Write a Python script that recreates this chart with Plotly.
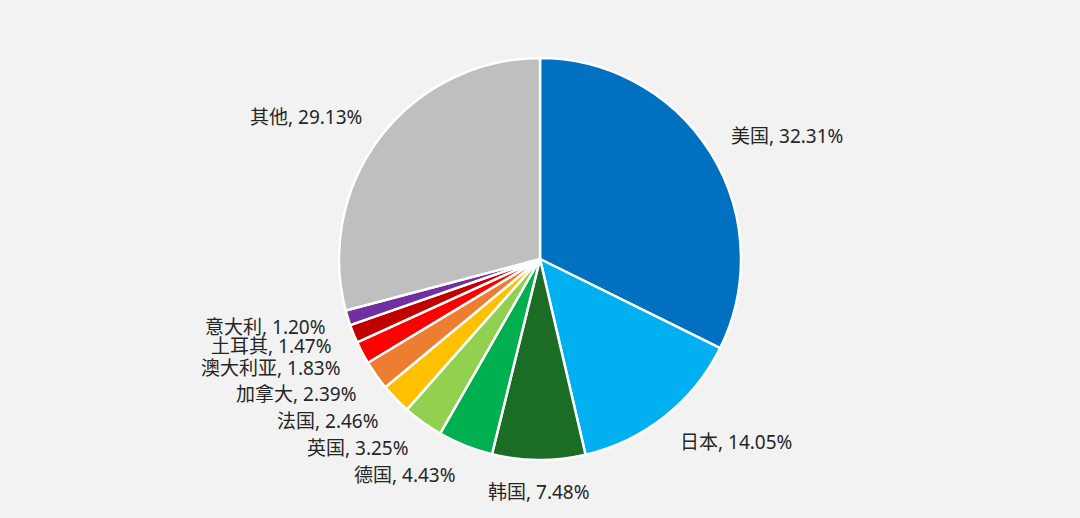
import math
import plotly.graph_objects as go

countries = ["美国", "日本", "韩国", "德国", "英国", "法国", "加拿大", "澳大利亚", "土耳其", "意大利", "其他"]
shares = [32.31, 14.05, 7.48, 4.43, 3.25, 2.46, 2.39, 1.83, 1.47, 1.20, 29.13]
colors = ["#0070C0", "#00B0F0", "#1B6D26", "#00B050", "#92D050", "#FFC000",
          "#ED7D31", "#FF0000", "#C00000", "#7030A0", "#BFBFBF"]

W, H = 1080, 518
top, bottom = 58, 58
plot_h = H - top - bottom
radius = plot_h / 2          # pie radius in px (domain is full plot area)
label_r = 1.105 * radius      # labels sit just outside the pie, no leader lines
half_h = 11                   # half the label height, used to nudge labels off the rim

fig = go.Figure(go.Pie(
    labels=countries,
    values=shares,
    sort=False,
    direction="clockwise",
    rotation=0,
    marker=dict(colors=colors, line=dict(color="white", width=2.5)),
    textinfo="none",
    hoverinfo="label+percent",
    showlegend=False,
))

# label positions follow the middle angle of each slice (like excel's outside end)
total = sum(shares)
cum = 0
annotations = []
for name, v in zip(countries, shares):
    mid = (cum + v / 2) / total * 2 * math.pi
    cum += v
    s, c = math.sin(mid), math.cos(mid)
    if s > 0.05:
        anchor = "left"
    elif s < -0.05:
        anchor = "right"
    else:
        anchor = "center"
    annotations.append(dict(
        x=0.5 + label_r * s / W,
        y=0.5 + label_r * c / plot_h,
        xref="paper", yref="paper",
        text=f"{name}, {v:.2f}%",
        showarrow=False,
        xanchor=anchor, yanchor="middle",
        yshift=c * half_h,
        font=dict(family="Noto Sans, Noto Sans CJK SC", size=19, color="#262626"),
    ))

fig.update_layout(
    width=W, height=H,
    paper_bgcolor="#F2F2F2",
    plot_bgcolor="#F2F2F2",
    margin=dict(l=0, r=0, t=top, b=bottom),
    annotations=annotations,
)

fig.write_html("out.html", config={"displayModeBar": False},
               post_script="document.body.style.margin='0';document.body.style.background='#F2F2F2';")
